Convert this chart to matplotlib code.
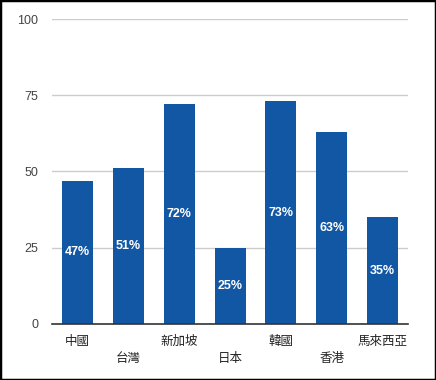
import matplotlib
matplotlib.use('Agg')
import matplotlib.pyplot as plt
from matplotlib.patches import Rectangle

plt.rcParams['font.family'] = ['Liberation Sans', 'Noto Sans CJK TC', 'DejaVu Sans']

# Data
regions = ['中國', '台灣', '新加坡', '日本', '韓國', '香港', '馬來西亞']
values = [47, 51, 72, 25, 73, 63, 35]
yticks = [0, 25, 50, 75, 100]

fig = plt.figure(figsize=(4.36, 3.80), dpi=100)
ax = fig.add_axes([0.1193, 0.1474, 0.8165, 0.8026])

x = list(range(len(regions)))
bars = ax.bar(x, values, width=0.61, color='#1157a3', zorder=3)

# value labels in the middle of each bar
for xi, v in zip(x, values):
    ax.text(xi, v / 2, f'{v}%', ha='center', va='center', color='white',
            fontsize=9, fontweight='bold', zorder=4)

ax.set_xlim(-0.5, len(regions) - 0.5)
ax.set_ylim(0, 100)
ax.set_yticks(yticks)
ax.set_yticklabels([str(t) for t in yticks], fontsize=9, color='#444444')
ax.yaxis.grid(True, color='#cccccc', linewidth=1, zorder=0)
ax.tick_params(axis='y', length=0, pad=10)
ax.tick_params(axis='x', length=0)
ax.set_xticks([])

# staggered category labels
for xi, name in zip(x, regions):
    dy = 18 if xi % 2 == 0 else 35
    ax.annotate(name, xy=(xi, 0), xycoords='data', xytext=(0, -dy),
                textcoords='offset pixels', ha='center', va='center',
                fontsize=9, color='#222222')

for s in ['top', 'right', 'left']:
    ax.spines[s].set_visible(False)
ax.spines['bottom'].set_color('#333333')
ax.spines['bottom'].set_linewidth(1.2)
ax.spines['bottom'].set_zorder(5)

# black frame around figure
fig.patches.append(Rectangle((0, 0), 1, 1, transform=fig.transFigure,
                             fill=False, edgecolor='black', linewidth=2.5))

fig.savefig('out.png', dpi=100)
